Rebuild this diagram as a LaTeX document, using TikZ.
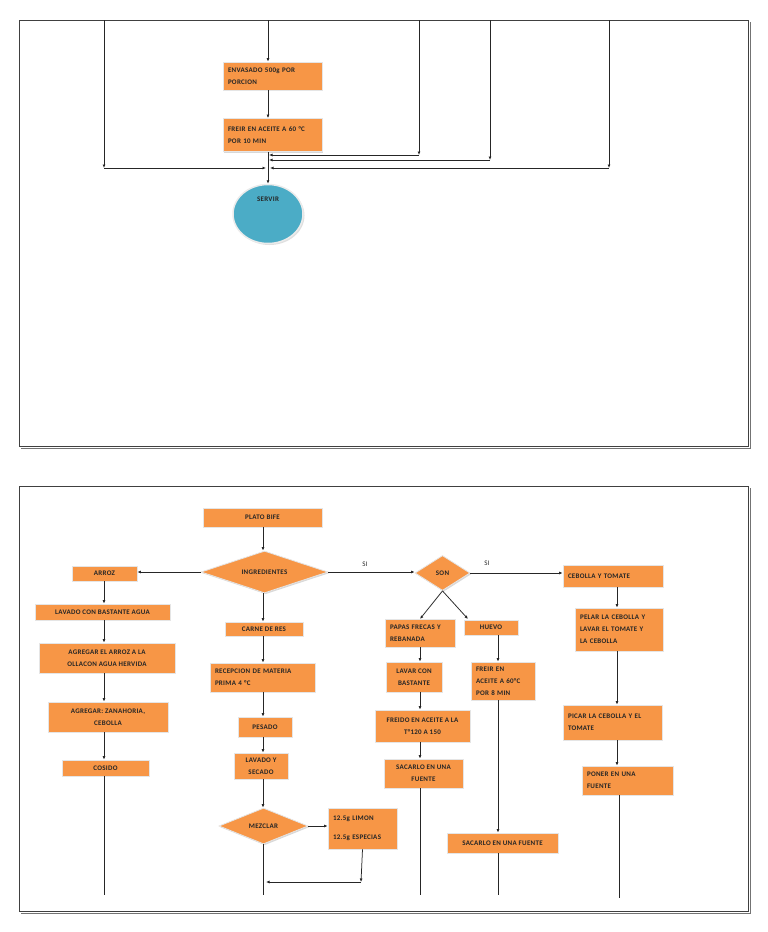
\documentclass[tikz,border=0pt]{standalone}
\usepackage{fontspec}
\setmainfont{Carlito}[LetterSpace=4]
\usetikzlibrary{arrows.meta,shapes.geometric,shadows}
\definecolor{boxorange}{HTML}{F79646}
\definecolor{servirblue}{HTML}{4BACC6}
\tikzset{
  txt/.style={font=\fontsize{7}{12}\selectfont\bfseries, text=black!85},
  box/.style={txt, rectangle, fill=boxorange, draw=black!10, line width=0.8pt,
    drop shadow={shadow xshift=1.2pt, shadow yshift=-1.2pt, fill=black!30},
    inner sep=0pt, align=center},
  bx/.style 2 args={box, minimum width=#1, minimum height=#2},
  lbx/.style 2 args={box, minimum width=#1, minimum height=#2, text width=#1-10pt, align=left},
  dia/.style 2 args={txt, diamond, shape aspect=3, fill=boxorange, draw=black!10, line width=0.8pt,
    drop shadow={shadow xshift=1.2pt, shadow yshift=-1.2pt, fill=black!30},
    inner sep=0pt, minimum width=#1, minimum height=#2},
  conn/.style={draw=black!85, line width=0.75pt},
  arr/.style={conn, -{Latex[length=3.5pt,width=3pt]}},
  lbl/.style={font=\fontsize{7}{12}\selectfont, text=black!85, inner sep=0pt},
  frame/.style={draw=black!75, line width=1pt},
  frameshadow/.style={draw=black!55, line width=0.8pt},
}
\begin{document}
\begin{tikzpicture}[x=1pt,y=-1pt]
\useasboundingbox (0,0) rectangle (768,932);

% ---------------- top panel ----------------
\draw[frame] (19,20) rectangle (748,446);
\draw[frameshadow] (21,448) -- (750,448) -- (750,22);

\node[lbx={99pt}{28pt}] (envasado) at (272.5,76) {ENVASADO 500g POR\\PORCION};
\node[lbx={99pt}{33pt}] (freir) at (272.5,135) {FREIR EN ACEITE A 60 °C\\POR 10 MIN};
\node[ellipse, fill=servirblue, draw=white!92!black, line width=1.5pt,
  drop shadow={shadow xshift=1.5pt, shadow yshift=-1.5pt, fill=black!25},
  minimum width=70pt, minimum height=59pt, inner sep=0pt] (servir) at (268,214) {};
\node[txt, inner sep=0pt] (servirtxt) at (268,199) {SERVIR};

\coordinate (t104) at (104,20);  \coordinate (b104) at (104,168);
\coordinate (t268) at (268,20);
\coordinate (t419) at (419,20);  \coordinate (b419) at (419,155);
\coordinate (t490) at (490,20);  \coordinate (b490) at (490,160);
\coordinate (t609) at (609,20);  \coordinate (b609) at (609,168);
\coordinate (m155) at (269,155);
\coordinate (m160) at (269,160);
\coordinate (m168l) at (266,168);
\coordinate (m168r) at (270,168);

\draw[arr] (t104) -- (b104);
\draw[arr] (t268) -- (t268 |- envasado.north);
\draw[arr] (t419) -- (b419);
\draw[arr] (t490) -- (b490);
\draw[arr] (t609) -- (b609);
\draw[arr] (envasado.south -| t268) -- (freir.north -| t268);
\draw[arr] (freir.south -| servir.north) -- (servir.north);
\draw[arr] (b419) -- (m155);
\draw[arr] (b490) -- (m160);
\draw[arr] (b104) -- (m168l);
\draw[arr] (b609) -- (m168r);

% ---------------- bottom panel ----------------
\draw[frame] (19,486) rectangle (748,911);
\draw[frameshadow] (21,913) -- (750,913) -- (750,488);

\node[bx={119pt}{19pt}] (plato) at (262.5,517.5) {PLATO BIFE};
\node[dia={127pt}{42pt}] (ingr) at (264.5,572) {INGREDIENTES};
\node[bx={65pt}{15pt}] (arroz) at (104.5,573.5) {ARROZ};
\node[bx={135pt}{16pt}] (lavado) at (102.5,612) {LAVADO CON BASTANTE AGUA};
\node[bx={136pt}{30pt}] (agregar1) at (107,658) {AGREGAR EL ARROZ A LA\\OLLACON AGUA HERVIDA};
\node[bx={120pt}{30pt}] (agregar2) at (108,717) {AGREGAR: ZANAHORIA,\\CEBOLLA};
\node[bx={87pt}{16pt}] (cosido) at (105.5,768) {COSIDO};

\node[bx={78pt}{14pt}] (carne) at (264,629) {CARNE DE RES};
\node[lbx={105pt}{29pt}] (recep) at (262.5,677.5) {RECEPCION DE MATERIA\\PRIMA 4 °C};
\node[bx={54pt}{20pt}] (pesado) at (265,727) {PESADO};
\node[bx={54pt}{26pt}] (lavsec) at (261,766) {LAVADO Y\\SECADO};
\node[dia={89pt}{36pt}] (mezclar) at (263.5,826) {MEZCLAR};
\node[lbx={69pt}{41pt}] (limon) at (362.5,828.5) {12.5g LIMON\\[7pt]12.5g ESPECIAS};

\node[dia={55pt}{35pt}] (son) at (442.5,573) {SON};
\node[lbl] (si1) at (365,564) {SI};
\node[lbl] (si2) at (487,563) {SI};

\node[lbx={70pt}{28pt}] (papas) at (420,633) {PAPAS FRECAS Y\\REBANADA};
\node[bx={54pt}{15pt}] (huevo) at (491,627.5) {HUEVO};
\node[bx={56pt}{30pt}] (lavar) at (414,677) {LAVAR CON\\BASTANTE};
\node[bx={95pt}{32pt}] (freido) at (422.5,726) {FREIDO EN ACEITE A LA\\T°120 A 150};
\node[bx={79pt}{29pt}] (sacarlo1) at (423.5,773.5) {SACARLO EN UNA\\FUENTE};
\node[lbx={64pt}{38pt}] (freiren) at (503,681) {FREIR EN\\ACEITE A 60°C\\POR 8 MIN};
\node[bx={111pt}{20pt}] (sacarlo2) at (502.5,843) {SACARLO EN UNA FUENTE};

\node[lbx={100pt}{22pt}] (cebtom) at (613,576) {CEBOLLA Y TOMATE};
\node[lbx={88pt}{43pt}] (pelar) at (619,629.5) {PELAR LA CEBOLLA Y\\LAVAR EL TOMATE Y\\LA CEBOLLA};
\node[lbx={99pt}{35pt}] (picar) at (612.5,722.5) {PICAR LA CEBOLLA Y EL\\TOMATE};
\node[lbx={91pt}{29pt}] (poner) at (627.5,780.5) {PONER EN UNA\\FUENTE};

% helper coordinates
\coordinate (x104) at (104,0);
\coordinate (x263) at (263,0);
\coordinate (x420) at (420,0);
\coordinate (x498) at (498,0);
\coordinate (x617) at (617,0);
\coordinate (huevoin) at (468,619);
\coordinate (papasin) at (420,619);
\coordinate (end104) at (104,895);
\coordinate (end263) at (263,895);
\coordinate (end420) at (420,895);
\coordinate (end498) at (498,895);
\coordinate (end619) at (619,898);
\coordinate (lm1) at (361,882);
\coordinate (lm2) at (266,882);

% connectors
\draw[arr] (plato.south -| x263) -- (ingr.north -| x263);
\draw[arr] (ingr.west) -- (ingr.west -| arroz.east);
\draw[arr] (ingr.east) -- (ingr.east -| son.west);
\draw[arr] (son.east) -- (son.east -| cebtom.west);
\draw[arr] (son.south) -- (papasin);
\draw[arr] (son.south) -- (huevoin);

\draw[arr] (arroz.south -| x104) -- (lavado.north -| x104);
\draw[arr] (lavado.south -| x104) -- (agregar1.north -| x104);
\draw[arr] (agregar1.south -| x104) -- (agregar2.north -| x104);
\draw[arr] (agregar2.south -| x104) -- (cosido.north -| x104);
\draw[conn] (cosido.south -| x104) -- (end104);

\draw[arr] (ingr.south -| x263) -- (carne.north -| x263);
\draw[arr] (carne.south -| x263) -- (recep.north -| x263);
\draw[arr] (recep.south -| x263) -- (pesado.north -| x263);
\draw[arr] (pesado.south -| x263) -- (lavsec.north -| x263);
\draw[arr] (lavsec.south -| x263) -- (mezclar.north -| x263);
\draw[arr] (mezclar.east) -- (mezclar.east -| limon.west);
\draw[conn] (mezclar.south -| x263) -- (end263);
\draw[arr] (limon.south) -- (lm1);
\draw[arr] (lm1) -- (lm2);

\draw[arr] (papas.south -| x420) -- (lavar.north -| x420);
\draw[arr] (lavar.south -| x420) -- (freido.north -| x420);
\draw[arr] (freido.south -| x420) -- (sacarlo1.north -| x420);
\draw[conn] (sacarlo1.south -| x420) -- (end420);

\draw[arr] (huevo.south -| x498) -- (freiren.north -| x498);
\draw[arr] (freiren.south -| x498) -- (sacarlo2.north -| x498);
\draw[conn] (sacarlo2.south -| x498) -- (end498);

\draw[arr] (cebtom.south -| x617) -- (pelar.north -| x617);
\draw[arr] (pelar.south -| x617) -- (picar.north -| x617);
\draw[arr] (picar.south -| x617) -- (poner.north -| x617);
\draw[conn] (poner.south -| end619) -- (end619);
\end{tikzpicture}
\end{document}
